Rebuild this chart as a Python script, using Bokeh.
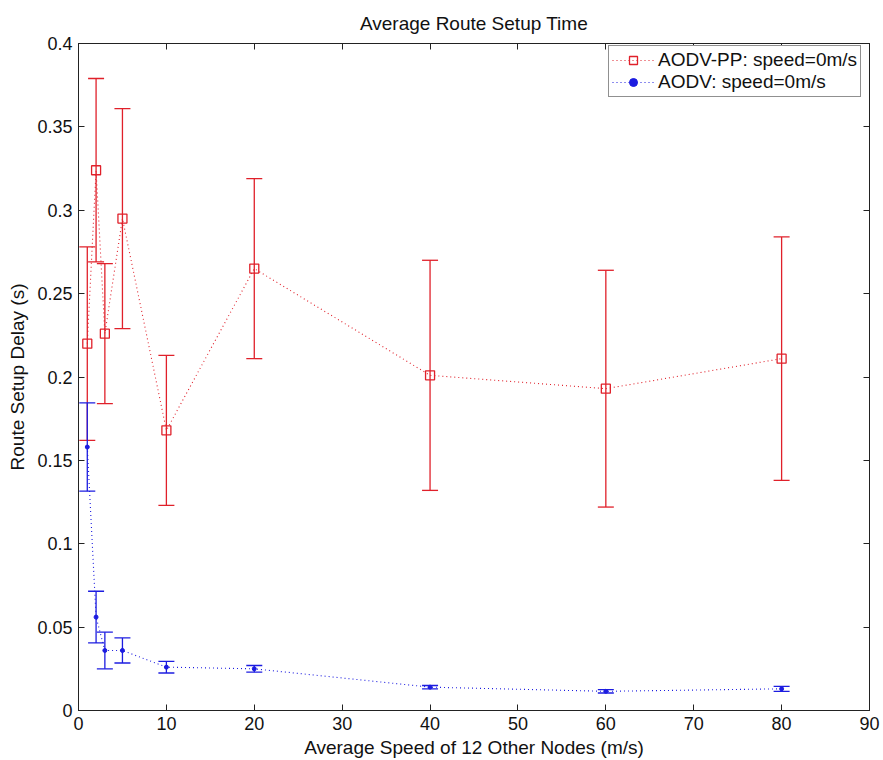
from bokeh.plotting import figure
from bokeh.models import ColumnDataSource, Whisker, TeeHead, LinearAxis, FixedTicker, Range1d, Legend, LegendItem
from bokeh.embed import file_html
from bokeh.resources import INLINE

# Data
speeds = [1, 2, 3, 5, 10, 20, 40, 60, 80]
pp_mean = [0.220, 0.324, 0.226, 0.295, 0.168, 0.265, 0.201, 0.193, 0.211]
pp_err = [0.058, 0.055, 0.042, 0.066, 0.045, 0.054, 0.069, 0.071, 0.073]
aodv_mean = [0.158, 0.056, 0.036, 0.036, 0.026, 0.025, 0.014, 0.0115, 0.013]
aodv_err = [0.0265, 0.0155, 0.011, 0.0075, 0.0035, 0.002, 0.001, 0.001, 0.0015]

x_ticks = [0, 10, 20, 30, 40, 50, 60, 70, 80, 90]
y_ticks = [0, 0.05, 0.1, 0.15, 0.2, 0.25, 0.3, 0.35, 0.4]
y_labels = ["0", "0.05", "0.1", "0.15", "0.2", "0.25", "0.3", "0.35", "0.4"]

RED = "#e0202a"
BLUE = "#1c1ce0"
FONT = "Liberation Sans"

pp_src = ColumnDataSource(dict(
    x=speeds, y=pp_mean,
    lo=[m - e for m, e in zip(pp_mean, pp_err)],
    hi=[m + e for m, e in zip(pp_mean, pp_err)]))
ao_src = ColumnDataSource(dict(
    x=speeds, y=aodv_mean,
    lo=[m - e for m, e in zip(aodv_mean, aodv_err)],
    hi=[m + e for m, e in zip(aodv_mean, aodv_err)]))

p = figure(width=883, height=760, output_backend="svg", toolbar_location=None,
           x_range=Range1d(0, 90), y_range=Range1d(0, 0.4),
           title="Average Route Setup Time",
           min_border_left=78, min_border_right=14, min_border_top=42, min_border_bottom=49)
p.background_fill_color = "white"
p.border_fill_color = "white"
p.outline_line_color = "#222222"
p.outline_line_width = 1
p.xgrid.visible = False
p.ygrid.visible = False

p.title.text_font = FONT
p.title.text_font_size = "19px"
p.title.text_font_style = "normal"
p.title.align = "center"
p.title.text_color = "#111111"
p.title.offset = 0
p.title.standoff = 20

def style_axis(ax, labels=True):
    ax.major_tick_in = 6
    ax.major_tick_out = 0
    ax.minor_tick_in = 0
    ax.minor_tick_out = 0
    ax.axis_line_color = "#222222"
    ax.major_tick_line_color = "#222222"
    ax.major_label_text_font = FONT
    ax.major_label_text_font_size = "18px" if labels else "1px"
    ax.major_label_text_color = "#111111"
    ax.axis_label_text_font = FONT
    ax.axis_label_text_font_size = "19px"
    ax.axis_label_text_font_style = "normal"
    ax.axis_label_text_color = "#111111"

p.xaxis.ticker = FixedTicker(ticks=x_ticks)
p.yaxis.ticker = FixedTicker(ticks=y_ticks)
p.yaxis.major_label_overrides = {t: l for t, l in zip(y_ticks, y_labels)}
p.xaxis.axis_label = "Average Speed of 12 Other Nodes (m/s)"
p.yaxis.axis_label = "Route Setup Delay (s)"
style_axis(p.xaxis[0])
style_axis(p.yaxis[0])
p.xaxis.major_label_standoff = 6
p.yaxis.major_label_standoff = 6
p.xaxis.axis_label_standoff = 4
p.yaxis.axis_label_standoff = 6

top = LinearAxis(ticker=FixedTicker(ticks=x_ticks),
                 major_label_overrides={t: "" for t in x_ticks})
right = LinearAxis(ticker=FixedTicker(ticks=y_ticks),
                   major_label_overrides={t: "" for t in y_ticks})
style_axis(top, labels=False)
style_axis(right, labels=False)
top.major_label_standoff = 0
right.major_label_standoff = 0
p.add_layout(top, "above")
p.add_layout(right, "right")

# AODV-PP
pp_line = p.line("x", "y", source=pp_src, line_color=RED, line_dash="1 3", line_width=1.1)
p.add_layout(Whisker(source=pp_src, base="x", lower="lo", upper="hi",
                     line_color=RED, line_width=1.3,
                     upper_head=TeeHead(size=16, line_color=RED, line_width=1.3),
                     lower_head=TeeHead(size=16, line_color=RED, line_width=1.3)))
pp_mark = p.scatter("x", "y", source=pp_src, marker="square", size=9,
                    line_color=RED, fill_color=None, line_width=1.3)

# AODV
ao_line = p.line("x", "y", source=ao_src, line_color=BLUE, line_dash="1 3", line_width=1.1)
p.add_layout(Whisker(source=ao_src, base="x", lower="lo", upper="hi",
                     line_color=BLUE, line_width=1.3,
                     upper_head=TeeHead(size=16, line_color=BLUE, line_width=1.3),
                     lower_head=TeeHead(size=16, line_color=BLUE, line_width=1.3)))
ao_mark = p.scatter("x", "y", source=ao_src, marker="circle", size=4,
                    line_color=BLUE, fill_color=BLUE)

legend = Legend(items=[
    LegendItem(label="AODV-PP: speed=0m/s", renderers=[pp_line, pp_mark]),
    LegendItem(label="AODV: speed=0m/s", renderers=[ao_line, ao_mark]),
], location=(530, 613))
legend.label_text_font = FONT
legend.label_text_font_size = "19px"
legend.label_text_color = "#111111"
legend.border_line_color = "#222222"
legend.border_line_width = 1
legend.margin = 0
legend.padding = 3
legend.spacing = 0
legend.label_height = 20
legend.glyph_height = 20
legend.glyph_width = 42
legend.label_standoff = 4
legend.background_fill_alpha = 1
p.add_layout(legend)

open("out.html", "w").write(file_html(p, INLINE))
